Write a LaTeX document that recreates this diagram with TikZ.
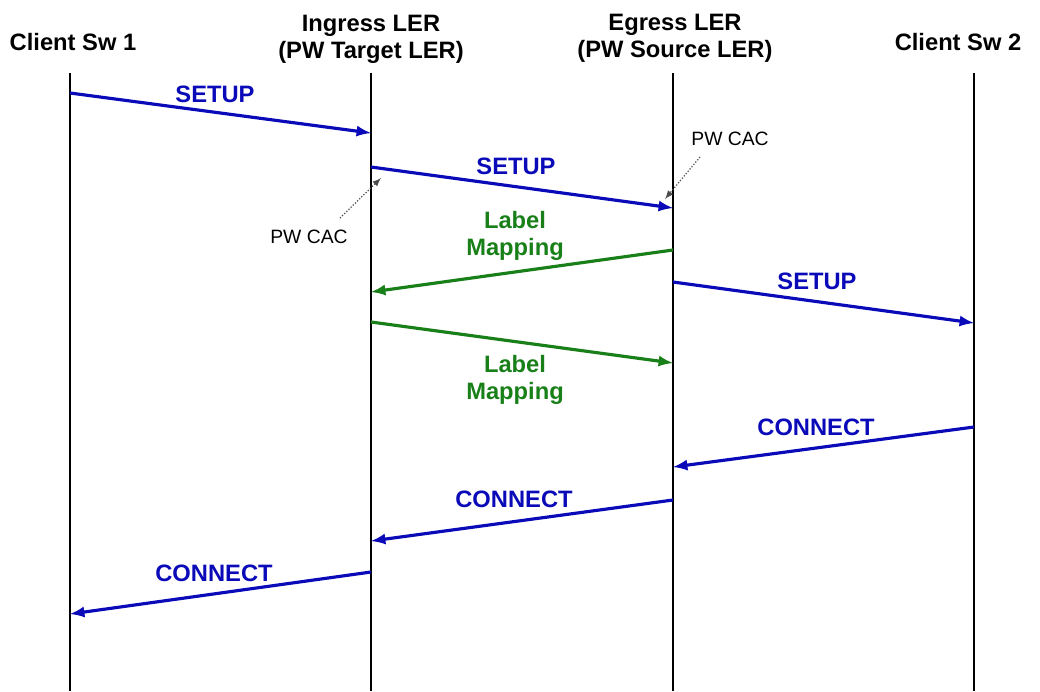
\documentclass[tikz,border=0pt]{standalone}
\usepackage{fontspec}
\setmainfont{Liberation Sans}
\usepackage{tikz}

\definecolor{msgblue}{RGB}{10,10,185}
\definecolor{msggreen}{RGB}{25,128,25}

\begin{document}
\begin{tikzpicture}[x=0.02cm, y=-0.02cm,
    head/.style={font=\fontsize{13.5}{15}\selectfont\bfseries, anchor=base, align=center},
    msglabel/.style={font=\fontsize{13.5}{15}\selectfont\bfseries, anchor=base, align=center},
    life/.style={line width=1.1pt},
    msg/.style={-latex, line width=1.8pt},
    cac/.style={font=\fontsize{11}{13}\selectfont, anchor=base},
    cacarrow/.style={-latex, densely dotted, line width=0.7pt, black!70}]
    \useasboundingbox (0,0) rectangle (1040,691);

    % Define the tops and bottoms of the lifelines
    \coordinate (SwOneTop) at (70,73);
    \coordinate (SwOneBot) at (70,691);
    \coordinate (IngTop) at (371,73);
    \coordinate (IngBot) at (371,691);
    \coordinate (EgTop) at (673,73);
    \coordinate (EgBot) at (673,691);
    \coordinate (SwTwoTop) at (974,73);
    \coordinate (SwTwoBot) at (974,691);

    % Headers
    \node[head] (SwOneHead) at (73,50) {Client Sw 1};
    \node[head] (IngHead) at (371,58) {Ingress LER\\(PW Target LER)};
    \node[head] (EgHead) at (675,57) {Egress LER\\(PW Source LER)};
    \node[head] (SwTwoHead) at (958,50) {Client Sw 2};

    % Draw lifelines
    \draw[life] (SwOneTop) -- (SwOneBot);
    \draw[life] (IngTop) -- (IngBot);
    \draw[life] (EgTop) -- (EgBot);
    \draw[life] (SwTwoTop) -- (SwTwoBot);

    % Message end points on the lifelines
    \coordinate (SetupOneA) at (70,93);
    \coordinate (SetupOneB) at (371,133);
    \coordinate (SetupTwoA) at (371,167);
    \coordinate (SetupTwoB) at (673,208);
    \coordinate (MapOneA) at (673,250);
    \coordinate (MapOneB) at (371,292);
    \coordinate (SetupThreeA) at (673,282);
    \coordinate (SetupThreeB) at (974,323);
    \coordinate (MapTwoA) at (371,322);
    \coordinate (MapTwoB) at (673,363);
    \coordinate (ConnOneA) at (974,427);
    \coordinate (ConnOneB) at (673,467);
    \coordinate (ConnTwoA) at (673,500);
    \coordinate (ConnTwoB) at (371,541);
    \coordinate (ConnThreeA) at (371,572);
    \coordinate (ConnThreeB) at (70,614);

    % Draw messages
    \draw[msg, msgblue] (SetupOneA) -- (SetupOneB);
    \draw[msg, msgblue] (SetupTwoA) -- (SetupTwoB);
    \draw[msg, msggreen] (MapOneA) -- (MapOneB);
    \draw[msg, msgblue] (SetupThreeA) -- (SetupThreeB);
    \draw[msg, msggreen] (MapTwoA) -- (MapTwoB);
    \draw[msg, msgblue] (ConnOneA) -- (ConnOneB);
    \draw[msg, msgblue] (ConnTwoA) -- (ConnTwoB);
    \draw[msg, msgblue] (ConnThreeA) -- (ConnThreeB);

    % Message labels
    \node[msglabel, msgblue] (SetupOneLbl) at (215,102) {SETUP};
    \node[msglabel, msgblue] (SetupTwoLbl) at (516,174) {SETUP};
    \node[msglabel, msggreen] (MapOneLbl) at (515,255) {Label\\Mapping};
    \node[msglabel, msgblue] (SetupThreeLbl) at (817,289) {SETUP};
    \node[msglabel, msggreen] (MapTwoLbl) at (515,399) {Label\\Mapping};
    \node[msglabel, msgblue] (ConnOneLbl) at (816,435) {CONNECT};
    \node[msglabel, msgblue] (ConnTwoLbl) at (514,507) {CONNECT};
    \node[msglabel, msgblue] (ConnThreeLbl) at (214,581) {CONNECT};

    % PW CAC notes
    \node[cac] (CacIng) at (309,243) {PW CAC};
    \node[cac] (CacEg) at (730,145) {PW CAC};
    \coordinate (CacIngTip) at (381,178);
    \coordinate (CacEgTip) at (665,199);
    \coordinate (CacIngTail) at (340,218);
    \coordinate (CacEgTail) at (700,157);
    \draw[cacarrow] (CacIngTail) -- (CacIngTip);
    \draw[cacarrow] (CacEgTail) -- (CacEgTip);
\end{tikzpicture}
\end{document}
